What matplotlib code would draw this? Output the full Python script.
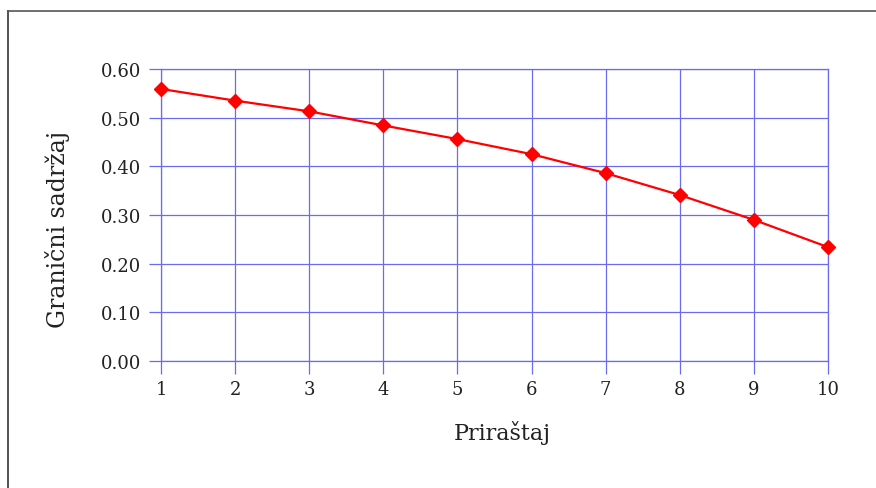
import matplotlib.pyplot as plt
from matplotlib.lines import Line2D

# increments and limit content values
prirastaj = [1, 2, 3, 4, 5, 6, 7, 8, 9, 10]
sadrzaj = [0.559, 0.535, 0.513, 0.484, 0.456, 0.425, 0.386, 0.341, 0.290, 0.234]
y_ticks = [0.0, 0.1, 0.2, 0.3, 0.4, 0.5, 0.6]

plt.rcParams['font.family'] = ['DejaVu Serif']

fig = plt.figure(figsize=(8.76, 4.89), dpi=100)
ax = fig.add_axes([161 / 876, 1 - 362 / 489, (828 - 161) / 876, (362 - 70) / 489])

grid_col = '#6b6bf0'
ax.plot(prirastaj, sadrzaj, color='#ff0000', lw=1.6, marker='D', ms=7,
        markeredgecolor='#ff0000', zorder=3, clip_on=False)

ax.set_xlim(1, 10)
ax.set_ylim(0, 0.6)
ax.set_xticks(prirastaj)
ax.set_yticks(y_ticks)
ax.set_yticklabels([f'{v:.2f}' for v in y_ticks])
ax.grid(True, color=grid_col, lw=0.9)
for s in ax.spines.values():
    s.set_color(grid_col)
    s.set_linewidth(0.9)
ax.tick_params(axis='both', color=grid_col, length=9, width=0.9,
               labelsize=13, labelcolor='#222222')
ax.tick_params(axis='y', pad=5)
ax.tick_params(axis='x', pad=5)

ax.set_xlabel('Priraštaj', fontsize=16, color='#222222')
ax.set_ylabel('Granični sadržaj', fontsize=17, color='#222222')
ax.xaxis.set_label_coords(0.511, -0.202)
ax.yaxis.set_label_coords(-0.137, 0.455)

# outer frame (only left and top edges visible)
fig.add_artist(Line2D([8 / 876, 8 / 876], [0, 1 - 12 / 489], transform=fig.transFigure,
                      color='#333333', lw=1.2))
fig.add_artist(Line2D([8 / 876, 1], [1 - 12 / 489, 1 - 12 / 489], transform=fig.transFigure,
                      color='#555555', lw=1.2))

fig.savefig('out.png', dpi=100)
